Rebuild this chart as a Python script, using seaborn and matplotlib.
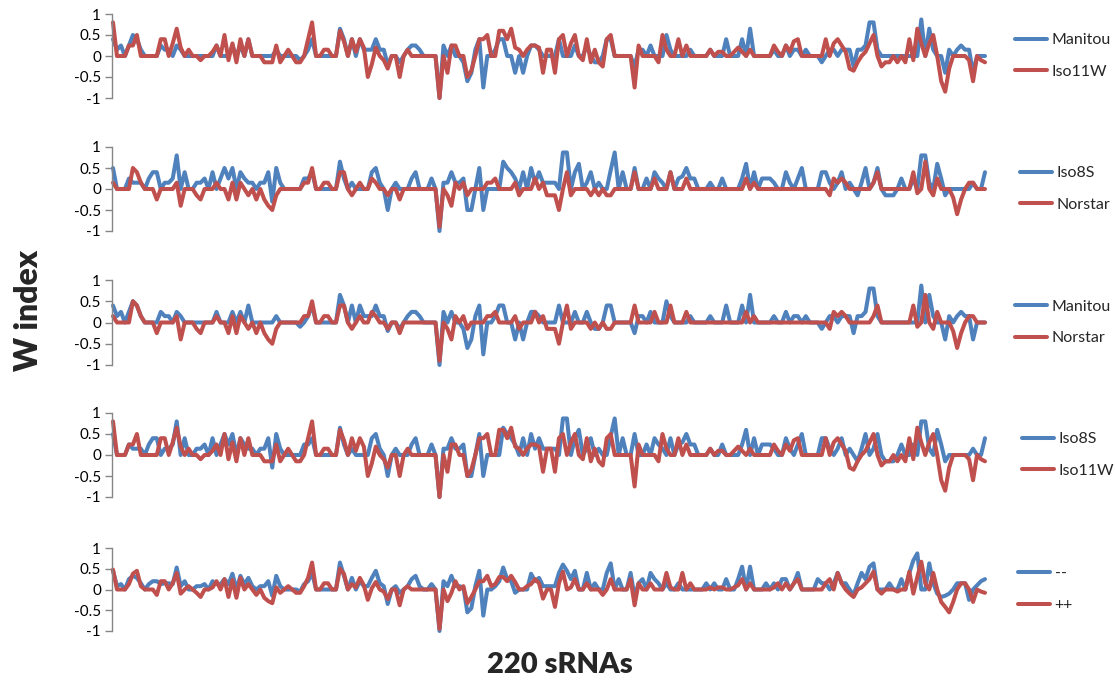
import matplotlib
matplotlib.use("Agg")
import matplotlib.pyplot as plt
import numpy as np
import seaborn as sns

# W index per sRNA (220 sRNAs)
srna = np.arange(1, 221)

manitou = [
    0.4, 0.15, 0.25, 0, 0.25, 0.5, 0.4, 0.15, 0, 0,
    0, 0, 0.25, 0.15, 0.15, 0, 0.25, 0.15, 0, 0,
    0, 0, 0, 0, 0, 0, 0.25, 0, 0, 0,
    0.25, 0, 0.25, 0, 0.4, 0, 0, 0, 0, 0,
    0, 0.15, 0, 0, 0, 0, 0, -0.1, 0, 0.15,
    0.4, 0, 0, 0, 0, 0, 0, 0.65, 0.4, 0,
    0.4, 0, 0.4, 0.15, 0.15, 0.15, 0.4, 0.15, 0.15, -0.2,
    0, 0, -0.15, 0, 0.15, 0.25, 0.25, 0.15, 0, 0,
    0, 0, -1, 0.25, 0, 0.25, 0, 0, -0.15, -0.6,
    -0.4, 0.15, 0.4, -0.75, 0, 0, 0.15, 0.4, 0.4, 0,
    0, -0.4, 0, -0.4, 0, 0.25, 0.25, 0.15, 0, 0,
    0, 0, 0.4, 0, 0, 0, 0.25, 0, 0, 0.25,
    0, -0.15, -0.15, 0, 0.4, 0.4, 0, 0, 0, 0,
    0, -0.25, 0.15, 0.15, 0, 0.25, 0, 0, 0, 0.5,
    0.15, 0, 0, 0, 0, 0.15, 0, 0, 0, 0,
    0.15, 0, 0, 0, 0.4, 0, 0, 0, 0.4, 0,
    0.65, 0, 0, 0, 0, 0, 0.15, 0, 0, 0.25,
    0, 0.15, 0.15, 0, 0.15, 0, 0, 0, -0.15, 0,
    0.15, 0.15, 0, 0.15, 0.15, 0.15, -0.25, 0.15, 0.15, 0.25,
    0.8, 0.8, 0.15, 0, 0, 0, 0, 0, 0, 0,
    0, 0, 0, 0.87, 0, 0.65, 0.15, 0, 0, -0.4,
    0.15, 0, 0.15, 0.25, 0.15, 0.15, -0.4, 0, 0, 0,
]

iso11w = [
    0.8, 0, 0, 0, 0.25, 0.25, 0.5, 0, 0, 0,
    0, 0, 0.4, 0.4, 0, 0.3, 0.65, 0.2, 0, 0.15,
    0, 0, -0.1, 0, 0, 0.1, 0.25, 0, 0.5, -0.1,
    0.3, -0.15, 0.4, 0, 0.4, 0, 0, 0, -0.15, -0.15,
    -0.15, 0.25, -0.15, 0, 0.15, 0, -0.15, -0.15, 0, 0.4,
    0.8, 0, 0, 0.15, 0.15, 0, 0, 0.6, 0.35, 0,
    0.4, 0.1, 0.4, 0.2, -0.5, -0.2, 0.2, 0, -0.1, -0.3,
    0, 0, -0.5, 0, 0.15, 0, 0, 0, 0, 0,
    0, 0, -1, 0, -0.4, 0.25, 0.25, 0, 0, -0.5,
    -0.35, 0, 0.4, 0.4, 0.5, 0, 0, 0.6, 0.6, 0.4,
    0.65, 0.2, 0.15, 0, 0.15, 0.25, 0.25, 0.2, -0.4, 0.15,
    0.15, -0.4, 0.4, 0.5, 0, 0.3, 0.5, 0, -0.1, 0.4,
    -0.15, 0.15, -0.15, -0.25, 0.4, 0.5, 0, 0, 0, 0,
    0, -0.75, 0.25, 0, 0, 0, 0, -0.15, 0.5, 0.15,
    0, 0, 0.4, 0, 0.25, 0, 0, 0, 0, 0,
    0.15, 0, 0.1, 0.1, 0, 0, 0.1, 0.2, 0.1, 0,
    0.15, 0, 0, 0, 0, 0, 0.25, 0.1, 0, 0.25,
    0.1, 0.35, 0.4, 0, 0, 0, 0, 0, 0, 0.4,
    0, 0.3, 0.4, 0.25, 0.1, -0.3, -0.35, -0.15, 0, 0.1,
    0.3, 0.5, 0, -0.25, -0.15, -0.15, 0, -0.15, 0, -0.15,
    0.4, -0.1, 0.65, 0.3, 0, 0.3, 0.5, 0, -0.6, -0.85,
    -0.3, 0, 0, 0, 0, -0.1, -0.6, 0, -0.1, -0.15,
]

iso8s = [
    0.5, 0, 0, 0, 0.25, 0.15, 0.15, 0.15, 0, 0.25,
    0.4, 0.4, 0, 0.15, 0.15, 0.25, 0.8, 0, 0.4, 0,
    0, 0.15, 0.15, 0.25, 0, 0.4, 0, 0.25, 0.5, 0.25,
    0.5, 0, 0.4, 0.25, 0.15, 0.15, 0, 0.15, 0.15, 0.4,
    -0.3, 0.5, 0.15, 0, 0, 0, 0, 0, 0.25, 0.25,
    0.4, 0, 0, 0, 0, 0, 0, 0.65, 0.25, 0,
    0.15, 0, 0, 0, 0, 0.4, 0.5, 0.15, 0, -0.5,
    0, 0.15, 0, 0, 0, 0.25, 0.4, 0, 0, 0,
    0.25, 0, -1, 0.15, 0.15, 0.4, 0.15, 0.15, 0.25, -0.5,
    -0.5, 0, 0.5, -0.5, 0, 0, 0, 0, 0.65, 0.5,
    0.4, 0.25, 0, 0.4, 0, 0.5, 0.15, 0.4, 0.15, 0.15,
    0.15, 0.15, 0, 0.87, 0.87, 0, 0.4, 0.6, 0, 0.15,
    0.4, 0, 0.15, 0, 0, 0.45, 0.87, 0, 0.4, 0,
    0, 0.5, 0, 0, 0.25, 0, 0.4, 0.25, 0.15, 0,
    0.4, 0, 0.25, 0.3, 0.5, 0.25, 0.25, 0, 0, 0,
    0.15, 0, 0, 0.25, 0, 0, 0, 0, 0.25, 0.6,
    0, 0.4, 0, 0.25, 0.25, 0.25, 0.15, 0, 0, 0.4,
    0.15, 0, 0.25, 0.5, 0, 0, 0, 0, 0.4, 0.4,
    0.15, 0, 0.15, 0.4, 0, 0.15, 0, -0.15, 0.15, 0.5,
    0, 0.15, 0.5, 0, -0.15, -0.15, -0.15, 0, 0.25, 0,
    0, 0.25, 0, 0.8, 0.8, 0.15, 0, 0.6, 0.25, -0.15,
    0, 0, 0, 0, 0, 0, 0.15, 0, 0, 0.4,
]

norstar = [
    0.15, 0, 0, 0, 0, 0.5, 0.4, 0.15, 0, 0,
    0, -0.25, 0, 0, 0, 0, 0.15, -0.4, 0, 0,
    0, -0.15, -0.25, 0, 0, 0, 0.15, 0, 0, -0.25,
    0.15, -0.25, 0.15, 0, -0.15, 0, -0.25, 0, -0.25, -0.4,
    -0.5, -0.15, 0, 0, 0, 0, 0, 0, 0.15, 0.15,
    0.5, 0, 0, 0.15, 0.15, 0, 0, 0.4, 0.4, 0,
    -0.15, 0, 0.15, 0, 0, 0.25, 0.15, 0, 0, -0.15,
    0, 0, -0.25, 0, 0, 0, 0, 0, 0, 0,
    0, 0, -0.9, 0, -0.15, -0.4, 0.15, 0, 0.15, -0.15,
    0, 0, 0, 0, 0.15, 0.15, 0.25, 0, 0, 0,
    0, 0.15, -0.15, 0, 0, 0, 0.25, 0, 0.15, -0.15,
    -0.15, -0.15, -0.5, 0, 0.4, -0.15, 0, 0, 0, 0,
    -0.15, 0, -0.15, 0, -0.15, -0.15, 0, 0, 0, 0,
    0, 0.4, 0, 0, 0, 0, 0.25, 0, 0, 0,
    0.4, 0, 0, 0, 0.25, 0, 0, 0, 0, 0,
    0, 0, 0, 0, 0, 0, 0, 0, 0, 0.25,
    0, 0.15, 0, 0, 0, 0, 0, 0, 0, 0,
    0, 0, 0, 0, 0, 0, 0, 0, 0, 0,
    -0.15, 0.25, 0.15, 0.25, 0.15, 0, 0, 0, 0, 0,
    0, 0.15, 0.4, 0, 0, 0, 0, 0, 0, 0,
    0, 0.4, -0.1, 0, 0.65, 0, -0.15, 0.25, 0, 0,
    0, -0.2, -0.6, -0.25, 0, 0.15, 0.15, 0, 0, 0,
]

minus_minus = [
    0.45, 0.08, 0.13, 0, 0.25, 0.33, 0.28, 0.15, 0, 0.13,
    0.2, 0.2, 0.13, 0.15, 0.15, 0.13, 0.53, 0.08, 0.2, 0,
    0, 0.08, 0.08, 0.13, 0, 0.2, 0.13, 0.13, 0.25, 0.13,
    0.38, 0, 0.33, 0.13, 0.28, 0.08, 0, 0.08, 0.08, 0.2,
    -0.15, 0.33, 0.08, 0, 0, 0, 0, -0.05, 0.13, 0.2,
    0.4, 0, 0, 0, 0, 0, 0, 0.65, 0.33, 0,
    0.28, 0, 0.2, 0.08, 0.08, 0.28, 0.45, 0.15, 0.08, -0.35,
    0, 0.08, -0.08, 0, 0.08, 0.25, 0.33, 0.08, 0, 0,
    0.13, 0, -1, 0.2, 0.08, 0.33, 0.08, 0.08, 0.05, -0.55,
    -0.45, 0.08, 0.45, -0.63, 0, 0, 0.08, 0.2, 0.53, 0.25,
    0.2, -0.08, 0, 0, 0, 0.38, 0.2, 0.28, 0.08, 0.08,
    0.08, 0.08, 0.4, 0.6, 0.45, 0.25, 0.45, 0, 0, 0.4,
    0, 0.15, 0, 0, 0.4, 0.63, 0, 0.25, 0, 0,
    0.4, -0.18, 0.15, 0.25, 0, 0.4, 0.25, 0.15, 0, 0.15,
    0, 0, 0.15, 0, 0, 0, 0, 0, 0, 0.15,
    0, 0.15, 0, 0, 0.25, 0, 0, 0.25, 0.55, 0,
    0.55, 0, 0, 0, 0.15, 0, 0.15, 0, 0.25, 0.25,
    0, 0.15, 0.4, 0, 0, 0, 0, 0.25, 0.15, 0.15,
    0, 0.15, 0.4, 0.15, 0.15, 0, -0.13, 0.15, 0.4, 0.25,
    0.55, 0.63, 0, 0, 0, 0.15, 0, 0, 0.25, 0,
    0.4, 0.7, 0.87, 0, 0, 0.63, 0.15, -0.1, -0.18, -0.15,
    -0.1, 0, 0.15, 0.15, 0.15, -0.25, 0, 0.1, 0.2, 0.25,
]

plus_plus = [
    0.48, 0, 0, 0, 0.13, 0.38, 0.45, 0.08, 0, 0,
    0, -0.13, 0.2, 0.2, 0, 0.15, 0.4, -0.1, 0, 0.08,
    0, -0.08, -0.18, 0, 0, 0.05, 0.2, 0, 0.25, -0.18,
    0.23, -0.2, 0.28, 0, 0.13, 0, -0.13, 0, -0.2, -0.28,
    -0.33, 0.05, -0.08, 0, 0.08, 0, -0.08, -0.08, 0.08, 0.28,
    0.65, 0, 0, 0.15, 0.15, 0, 0, 0.5, 0.38, 0,
    0.13, 0.05, 0.28, 0.1, -0.25, 0.03, 0.18, 0, -0.05, -0.23,
    0, 0, -0.38, 0, 0.08, 0, 0, 0, 0, 0,
    0, 0, -0.95, 0, -0.28, -0.08, 0.2, 0, 0.08, -0.33,
    -0.18, 0, 0.2, 0.2, 0.33, 0.08, 0.13, 0.3, 0.3, 0.2,
    0.33, 0.18, 0, 0, 0.08, 0.13, 0.25, 0.15, -0.22, 0,
    0, -0.42, 0.15, 0.43, 0, 0.05, 0.25, 0, 0, 0.15,
    0, 0, 0, -0.13, 0, 0.25, 0, 0, 0, 0,
    0.25, -0.38, 0.15, 0, 0, 0.15, 0, 0, 0, 0.4,
    0.05, 0, 0, 0.4, 0, 0.15, 0, 0, 0, 0,
    0.05, 0, 0.05, 0.05, 0, 0, 0.05, 0.1, 0.25, 0,
    0.15, 0, 0, 0, 0, 0, 0.05, 0.15, 0, 0.15,
    0, 0.15, 0.25, 0, 0, 0, 0, 0, 0, 0.15,
    0.25, 0, 0.4, 0.15, 0, -0.1, -0.18, 0, 0.05, 0.15,
    0.25, 0.43, 0, -0.1, 0, 0, 0, -0.05, 0, 0,
    0.43, -0.1, 0.3, 0.67, 0.15, 0, 0.4, 0, -0.3, -0.42,
    -0.55, -0.3, 0, 0.15, 0.15, 0, -0.3, 0, -0.05, -0.08,
]

panels = [
    (manitou, iso11w, "Manitou", "Iso11W"),
    (iso8s, norstar, "Iso8S", "Norstar"),
    (manitou, norstar, "Manitou", "Norstar"),
    (iso8s, iso11w, "Iso8S", "Iso11W"),
    (minus_minus, plus_plus, "--", "++"),
]
ytick_vals = [-1, -0.5, 0, 0.5, 1]
ytick_text = ["-1", "-0.5", "0", "0.5", "1"]

BLUE = "#4F81BD"
RED = "#C0504D"
GRAY = "#868686"

sns.set_theme(style="white")
plt.rcParams["font.family"] = ["Lato", "DejaVu Sans"]

W, H = 1115, 685
fig = plt.figure(figsize=(W / 100, H / 100), dpi=100)

# pixel rows of the "1" and "-1" ticks for each panel, legend handle x
tops = [14, 147, 280, 413, 548]
bottoms = [98, 231, 365, 497, 631]
legend_x = [1015, 1020, 1015, 1022, 1018]
ax_left, ax_right = 112, 985

for (blue, red, lab_b, lab_r), top, bot, lx in zip(panels, tops, bottoms, legend_x):
    ax = fig.add_axes([ax_left / W, 1 - bot / H, (ax_right - ax_left) / W, (bot - top) / H])
    sns.lineplot(x=srna, y=blue, ax=ax, color=BLUE, lw=2.9, label=lab_b, clip_on=False)
    sns.lineplot(x=srna, y=red, ax=ax, color=RED, lw=2.9, label=lab_r, clip_on=False)
    ax.set_xlim(0.75, 220)
    ax.set_ylim(-1, 1)
    ax.set_xticks([])
    ax.set_yticks(ytick_vals)
    ax.set_yticklabels(ytick_text, fontsize=11)
    ax.set_xlabel("")
    ax.set_ylabel("")
    for s in ["top", "right", "bottom"]:
        ax.spines[s].set_visible(False)
    ax.spines["left"].set_color(GRAY)
    ax.spines["left"].set_linewidth(1)
    ax.tick_params(axis="y", direction="out", length=5, width=1, color=GRAY,
                   pad=3, left=True, labelcolor="black")
    ax.patch.set_alpha(0)
    ax.legend(loc="center left", bbox_to_anchor=((lx - ax_left) / (ax_right - ax_left), 0.5),
              frameon=False, fontsize=11.5, handlelength=2.0, handletextpad=0.3,
              labelspacing=1.1, borderpad=0, borderaxespad=0)

fig.text(28 / W, 1 - 310 / H, "W index", rotation=90, fontsize=23, fontweight="heavy",
         ha="center", va="center")
fig.text(560 / W, 1 - 665 / H, "220 sRNAs", fontsize=21, fontweight="heavy",
         ha="center", va="center")

fig.savefig("out.png", dpi=100)
